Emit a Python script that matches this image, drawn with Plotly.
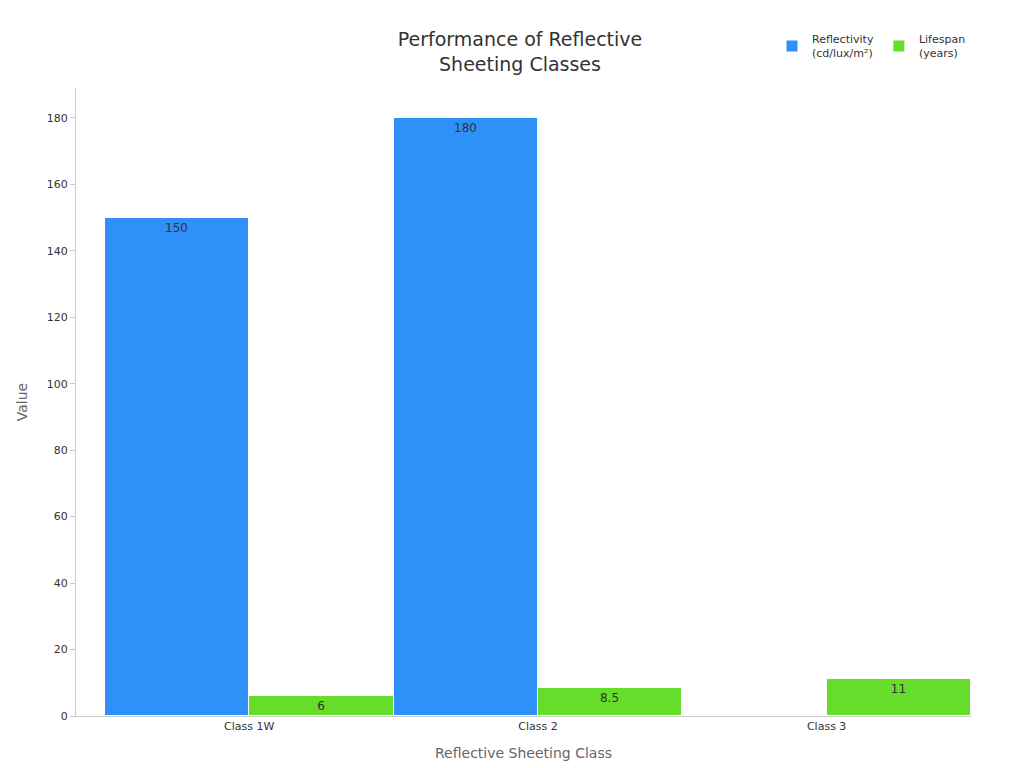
import plotly.graph_objects as go

classes = ["Class 1W", "Class 2", "Class 3"]
reflectivity = [150, 180, None]
lifespan = [6, 8.5, 11]
reflectivity_text = ["150", "180", ""]
lifespan_text = ["6", "8.5", "11"]

fig = go.Figure()
fig.add_trace(go.Bar(x=classes, y=reflectivity, name="Reflectivity<br>(cd/lux/m²)",
                     marker=dict(color="#2E91F9", line=dict(color="white", width=1)),
                     text=reflectivity_text, textposition="inside",
                     textfont=dict(color="#333", size=12)))
fig.add_trace(go.Bar(x=classes, y=lifespan, name="Lifespan<br>(years)",
                     marker=dict(color="#66DD2A", line=dict(color="white", width=1)),
                     text=lifespan_text, textposition="inside",
                     textfont=dict(color="#333", size=12)))

fig.update_layout(
    width=1024, height=768,
    template="plotly_white",
    font=dict(family="DejaVu Sans", color="#333"),
    title=dict(text="Performance of Reflective<br>Sheeting Classes", x=0.5, y=0.95,
               xanchor="center", font=dict(size=19)),
    barmode="group", bargap=0.0, bargroupgap=0.0,
    margin=dict(l=68, r=61, t=80, b=60),
    legend=dict(orientation="h", x=1.0, xanchor="right", y=1.1, yanchor="top",
                font=dict(size=11)),
    xaxis=dict(title=dict(text="Reflective Sheeting Class", font=dict(size=14, color="#666")),
               showline=True, linecolor="#ccc", showgrid=False, tickfont=dict(size=11)),
    yaxis=dict(title=dict(text="Value", font=dict(size=14, color="#666")),
               range=[0, 189], dtick=20, showgrid=False, showline=True, linecolor="#ccc",
               ticks="outside", ticklen=5, tickcolor="#ccc", tickfont=dict(size=11),
               zeroline=False),
)
fig.update_xaxes(range=[-0.6, 2.5])
fig.write_html("out.html")
